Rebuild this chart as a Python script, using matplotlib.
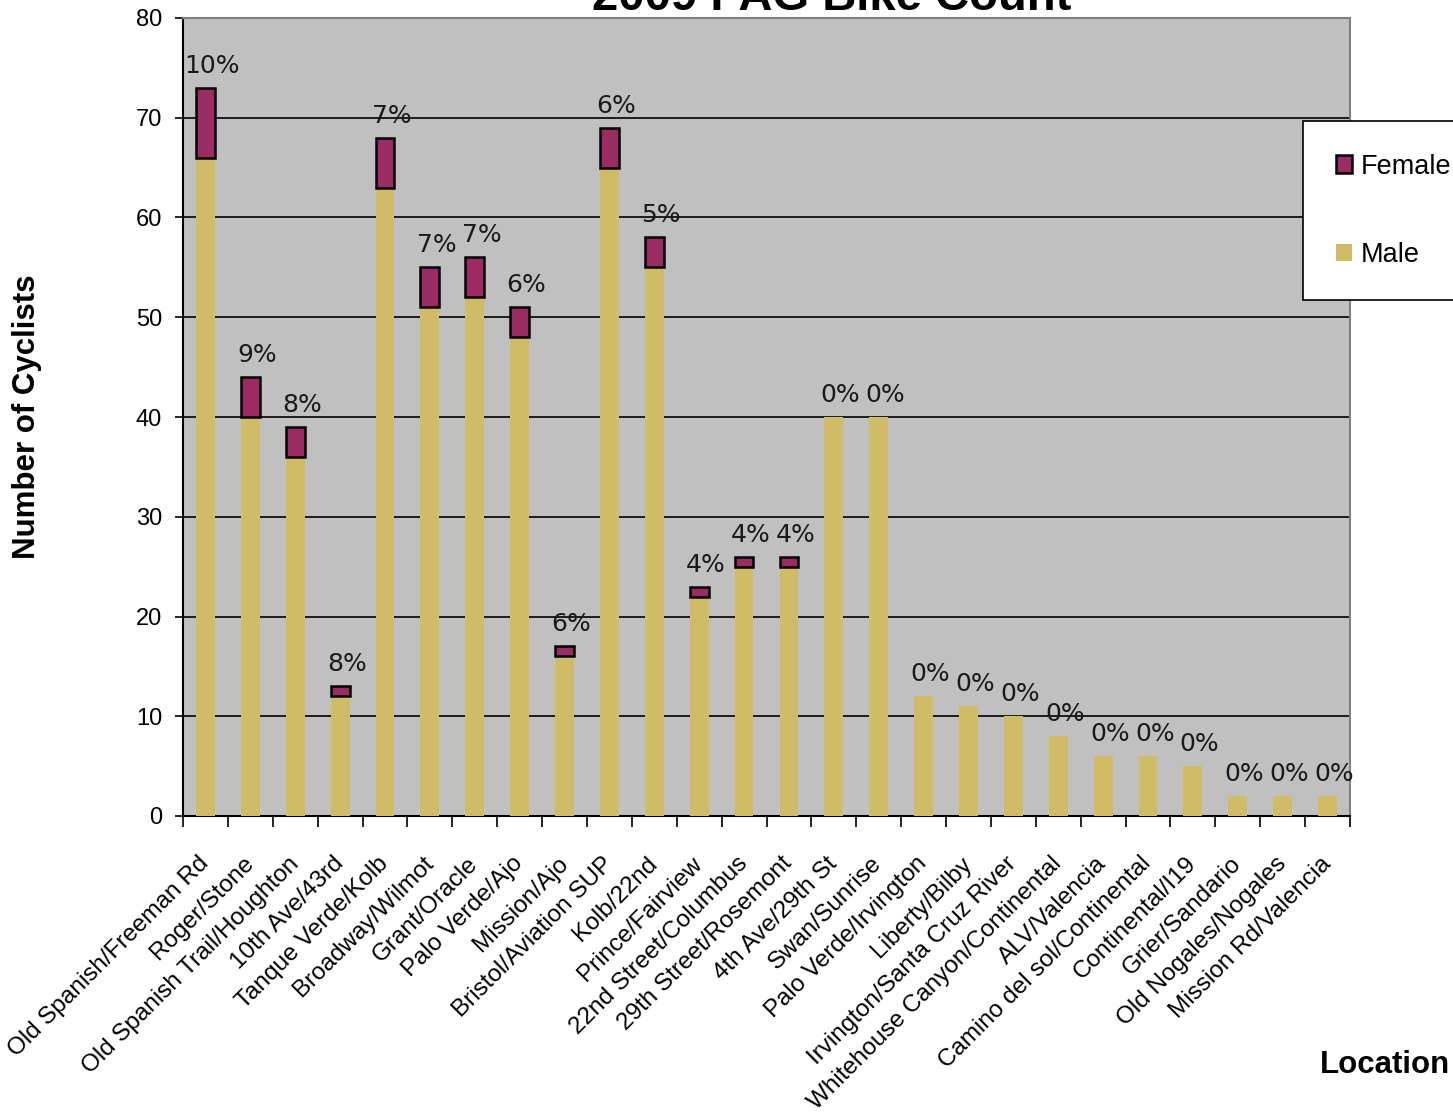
import matplotlib.pyplot as plt
import numpy as np

locations = [
    "Old Spanish/Freeman Rd", "Roger/Stone", "Old Spanish Trail/Houghton",
    "10th Ave/43rd", "Tanque Verde/Kolb", "Broadway/Wilmot", "Grant/Oracle",
    "Palo Verde/Ajo", "Mission/Ajo", "Bristol/Aviation SUP", "Kolb/22nd",
    "Prince/Fairview", "22nd Street/Columbus", "29th Street/Rosemont",
    "4th Ave/29th St", "Swan/Sunrise", "Palo Verde/Irvington", "Liberty/Bilby",
    "Irvington/Santa Cruz River", "Whitehouse Canyon/Continental",
    "ALV/Valencia", "Camino del sol/Continental", "Continental/I19",
    "Grier/Sandario", "Old Nogales/Nogales", "Mission Rd/Valencia",
]
male = [66, 40, 36, 12, 63, 51, 52, 48, 16, 65, 55, 22, 25, 25,
        40, 40, 12, 11, 10, 8, 6, 6, 5, 2, 2, 2]
female = [7, 4, 3, 1, 5, 4, 4, 3, 1, 4, 3, 1, 1, 1,
          0, 0, 0, 0, 0, 0, 0, 0, 0, 0, 0, 0]
pct_labels = ["10%", "9%", "8%", "8%", "7%", "7%", "7%", "6%", "6%", "6%",
              "5%", "4%", "4%", "4%", "0%", "0%", "0%", "0%", "0%", "0%",
              "0%", "0%", "0%", "0%", "0%", "0%"]

MALE_C = "#D0BC66"
FEMALE_C = "#9B2C62"

fig = plt.figure(figsize=(14.53, 11.12), dpi=100)
ax = fig.add_axes([183 / 1453, 1 - 816 / 1112, (1350 - 183) / 1453, (816 - 18) / 1112])
ax.set_facecolor("#C0C0C0")

x = np.arange(len(locations))
ax.bar(x, male, width=0.42, color=MALE_C, label="Male", zorder=3)
ax.bar(x, female, width=0.42, bottom=male, color=FEMALE_C, edgecolor="black",
       linewidth=1.8, label="Female", zorder=3)
# zero-height female bars would still draw an edge line, hide them
for p, f in zip(ax.patches[len(male):], female):
    if f == 0:
        p.set_visible(False)

for xi, m, f, lab in zip(x, male, female, pct_labels):
    ax.text(xi + 0.15, m + f + 1.0, lab, ha="center", va="bottom",
            fontsize=18, family="DejaVu Sans", color="#1a1a1a", zorder=4)

ax.set_xlim(-0.5, len(locations) - 0.5)
ax.set_ylim(0, 80)
ax.set_yticks(range(0, 81, 10))
ax.yaxis.grid(True, color="black", linewidth=1.2, zorder=1)
ax.set_axisbelow(True)

ax.set_xticks(np.arange(-0.5, len(locations), 1.0), minor=False)
ax.set_xticklabels([])
ax.set_xticks(x, minor=True)
ax.set_xticklabels(locations, minor=True, rotation=45, ha="right", va="center",
                   rotation_mode="anchor", fontsize=17.5, family="Liberation Sans")
ax.tick_params(axis="x", which="minor", length=0, pad=32)
ax.tick_params(axis="x", which="major", length=8, width=1.2, direction="out")
ax.tick_params(axis="y", length=6, width=1.2, labelsize=17, pad=9)
for t in ax.get_yticklabels():
    t.set_family("Liberation Sans")

for s in ["top", "right"]:
    ax.spines[s].set_color("#808080")
    ax.spines[s].set_linewidth(1.5)
for s in ["left", "bottom"]:
    ax.spines[s].set_color("black")
    ax.spines[s].set_linewidth(1.5)

ax.set_ylabel("Number of Cyclists", fontsize=22.5, fontweight="bold",
              family="Liberation Sans")
ax.yaxis.set_label_coords(-0.121, 0.5)
fig.text(1450 / 1453, 1 - 1065 / 1112, "Location", ha="right", va="center",
         fontsize=22.5, fontweight="bold", family="Liberation Sans")

fig.text(832 / 1453, 1 - 10 / 1112, "2009 PAG Bike Count", ha="center",
         va="baseline", fontsize=34, fontweight="bold", family="Liberation Sans")

handles, labels = ax.get_legend_handles_labels()
leg = fig.legend(handles[::-1], labels[::-1], loc="upper left",
                 bbox_to_anchor=(1303 / 1453, 1 - 121 / 1112),
                 frameon=True, fancybox=False, framealpha=1, edgecolor="black",
                 prop={"family": "Liberation Sans", "size": 19.5},
                 handlelength=0.6, handleheight=0.6, handletextpad=0.35,
                 labelspacing=2.3, borderpad=1.2, borderaxespad=0)
leg.get_frame().set_linewidth(1.2)

fig.savefig("out.png", dpi=100)
